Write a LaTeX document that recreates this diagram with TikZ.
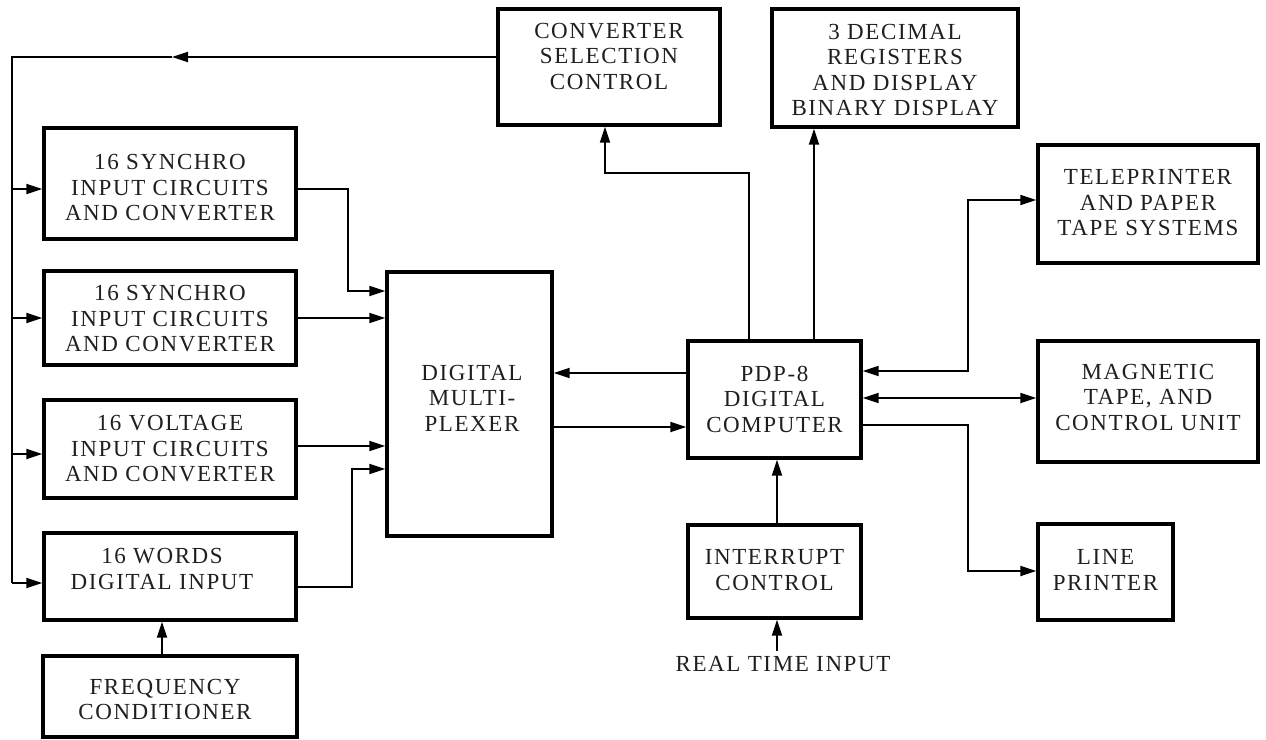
\documentclass[tikz,border=0pt]{standalone}
\usepackage{fontspec}
\setmainfont{Liberation Serif}[LetterSpace=7]
\usetikzlibrary{arrows.meta,calc}
\tikzset{
  box/.style={draw, line width=3.4pt, inner sep=0pt},
  txt/.style={align=center, font=\fontsize{23}{25.5}\selectfont, inner sep=0pt, text=black!88},
  wire/.style={line width=2.1pt},
  arr/.style={wire, -{Triangle[length=16pt,width=10pt]}},
  darr/.style={wire, {Triangle[length=16pt,width=10pt]}-{Triangle[length=16pt,width=10pt]}},
}
\begin{document}
\begin{tikzpicture}[x=1pt,y=-1pt]
\useasboundingbox (0,0) rectangle (1266,739);
% boxes
\node[box, minimum width=222pt, minimum height=116pt] (conv) at (609,67) {};
\node[txt] (convt) at (609,56) {CONVERTER\\SELECTION\\CONTROL};
\node[box, minimum width=246pt, minimum height=118pt] (dec) at (895,68) {};
\node[txt] (dect) at (895,70) {3 DECIMAL\\REGISTERS\\AND DISPLAY\\BINARY DISPLAY};
\node[box, minimum width=220pt, minimum height=118pt] (tele) at (1148,204) {};
\node[txt] (telet) at (1148,203) {TELEPRINTER\\AND PAPER\\TAPE SYSTEMS};
\node[box, minimum width=220pt, minimum height=121pt] (mag) at (1148,401.5) {};
\node[txt] (magt) at (1148,397) {MAGNETIC\\TAPE,  AND\\CONTROL UNIT};
\node[box, minimum width=135pt, minimum height=96pt] (lp) at (1105.5,572) {};
\node[txt] (lpt) at (1105.5,570) {LINE\\PRINTER};
\node[box, minimum width=173pt, minimum height=117pt] (pdp) at (774.5,399.5) {};
\node[txt] (pdpt) at (774.5,399) {PDP-8\\DIGITAL\\COMPUTER};
\node[box, minimum width=173pt, minimum height=93pt] (intr) at (774.5,571.5) {};
\node[txt] (intrt) at (774.5,570) {INTERRUPT\\CONTROL};
\node[box, minimum width=165pt, minimum height=264pt] (mux) at (469.5,404) {};
\node[txt] (muxt) at (472,398) {DIGITAL\\MULTI-\\PLEXER};
\node[box, minimum width=252pt, minimum height=111pt] (b1) at (170,183.5) {};
\node[txt] (b1t) at (170,188) {16 SYNCHRO\\INPUT CIRCUITS\\AND CONVERTER};
\node[box, minimum width=252pt, minimum height=94pt] (b2) at (170,318) {};
\node[txt] (b2t) at (170,319) {16 SYNCHRO\\INPUT CIRCUITS\\AND CONVERTER};
\node[box, minimum width=252pt, minimum height=98pt] (b3) at (170,449) {};
\node[txt] (b3t) at (170,449) {16 VOLTAGE\\INPUT CIRCUITS\\AND CONVERTER};
\node[box, minimum width=252pt, minimum height=87pt] (b4) at (170,576.5) {};
\node[txt] (b4t) at (162,569) {16 WORDS\\DIGITAL INPUT};
\node[box, minimum width=254pt, minimum height=81pt] (freq) at (170,696.5) {};
\node[txt] (freqt) at (165,699.5) {FREQUENCY\\CONDITIONER};
\node[txt, inner sep=5pt] (rti) at (783,664) {REAL TIME INPUT};
% coordinates
\coordinate (ltop) at (12,57);
\coordinate (tmid) at (172,57);
\coordinate (lbot) at (12,583);
\coordinate (yb1) at (12,189);
\coordinate (yb2) at (12,318);
\coordinate (yb3) at (12,454);
\coordinate (k1) at (348,189);
\coordinate (k1b) at (348,291);
\coordinate (k2) at (0,318);
\coordinate (k3) at (0,446);
\coordinate (k4) at (352,587);
\coordinate (k4b) at (352,469);
\coordinate (kf) at (162,0);
\coordinate (m1) at (0,373);
\coordinate (m2) at (0,427);
\coordinate (u1) at (749,173);
\coordinate (u2) at (605,173);
\coordinate (u3) at (814,0);
\coordinate (r1) at (968,200);
\coordinate (r2) at (968,371);
\coordinate (r3) at (0,398);
\coordinate (r4) at (968,425);
\coordinate (r5) at (968,571);
\coordinate (v1) at (777,0);
% feedback bus
\draw[arr] (conv.west |- ltop) -- (tmid);
\draw[wire] (tmid) -- (ltop) -- (lbot);
\draw[arr] (lbot) -- (b4.west |- lbot);
\draw[arr] (yb1) -- (b1.west |- yb1);
\draw[arr] (yb2) -- (b2.west |- yb2);
\draw[arr] (yb3) -- (b3.west |- yb3);
% into multiplexer
\draw[arr] (b1.east |- k1) -- (k1) -- (k1b) -- (mux.west |- k1b);
\draw[arr] (b2.east |- k2) -- (mux.west |- k2);
\draw[arr] (b3.east |- k3) -- (mux.west |- k3);
\draw[arr] (b4.east |- k4) -- (k4) -- (k4b) -- (mux.west |- k4b);
\draw[arr] (freq.north -| kf) -- (b4.south -| kf);
% mux <-> pdp
\draw[arr] (pdp.west |- m1) -- (mux.east |- m1);
\draw[arr] (mux.east |- m2) -- (pdp.west |- m2);
% pdp outputs
\draw[arr] (pdp.north -| u1) -- (u1) -- (u2) -- (conv.south -| u2);
\draw[arr] (pdp.north -| u3) -- (dec.south -| u3);
\draw[darr] (tele.west |- r1) -- (r1) -- (r2) -- (pdp.east |- r2);
\draw[darr] (pdp.east |- r3) -- (mag.west |- r3);
\draw[arr] (pdp.east |- r4) -- (r4) -- (r5) -- (lp.west |- r5);
\draw[arr] (intr.north -| v1) -- (pdp.south -| v1);
\draw[arr] (rti.north -| v1) -- (intr.south -| v1);
\end{tikzpicture}
\end{document}
